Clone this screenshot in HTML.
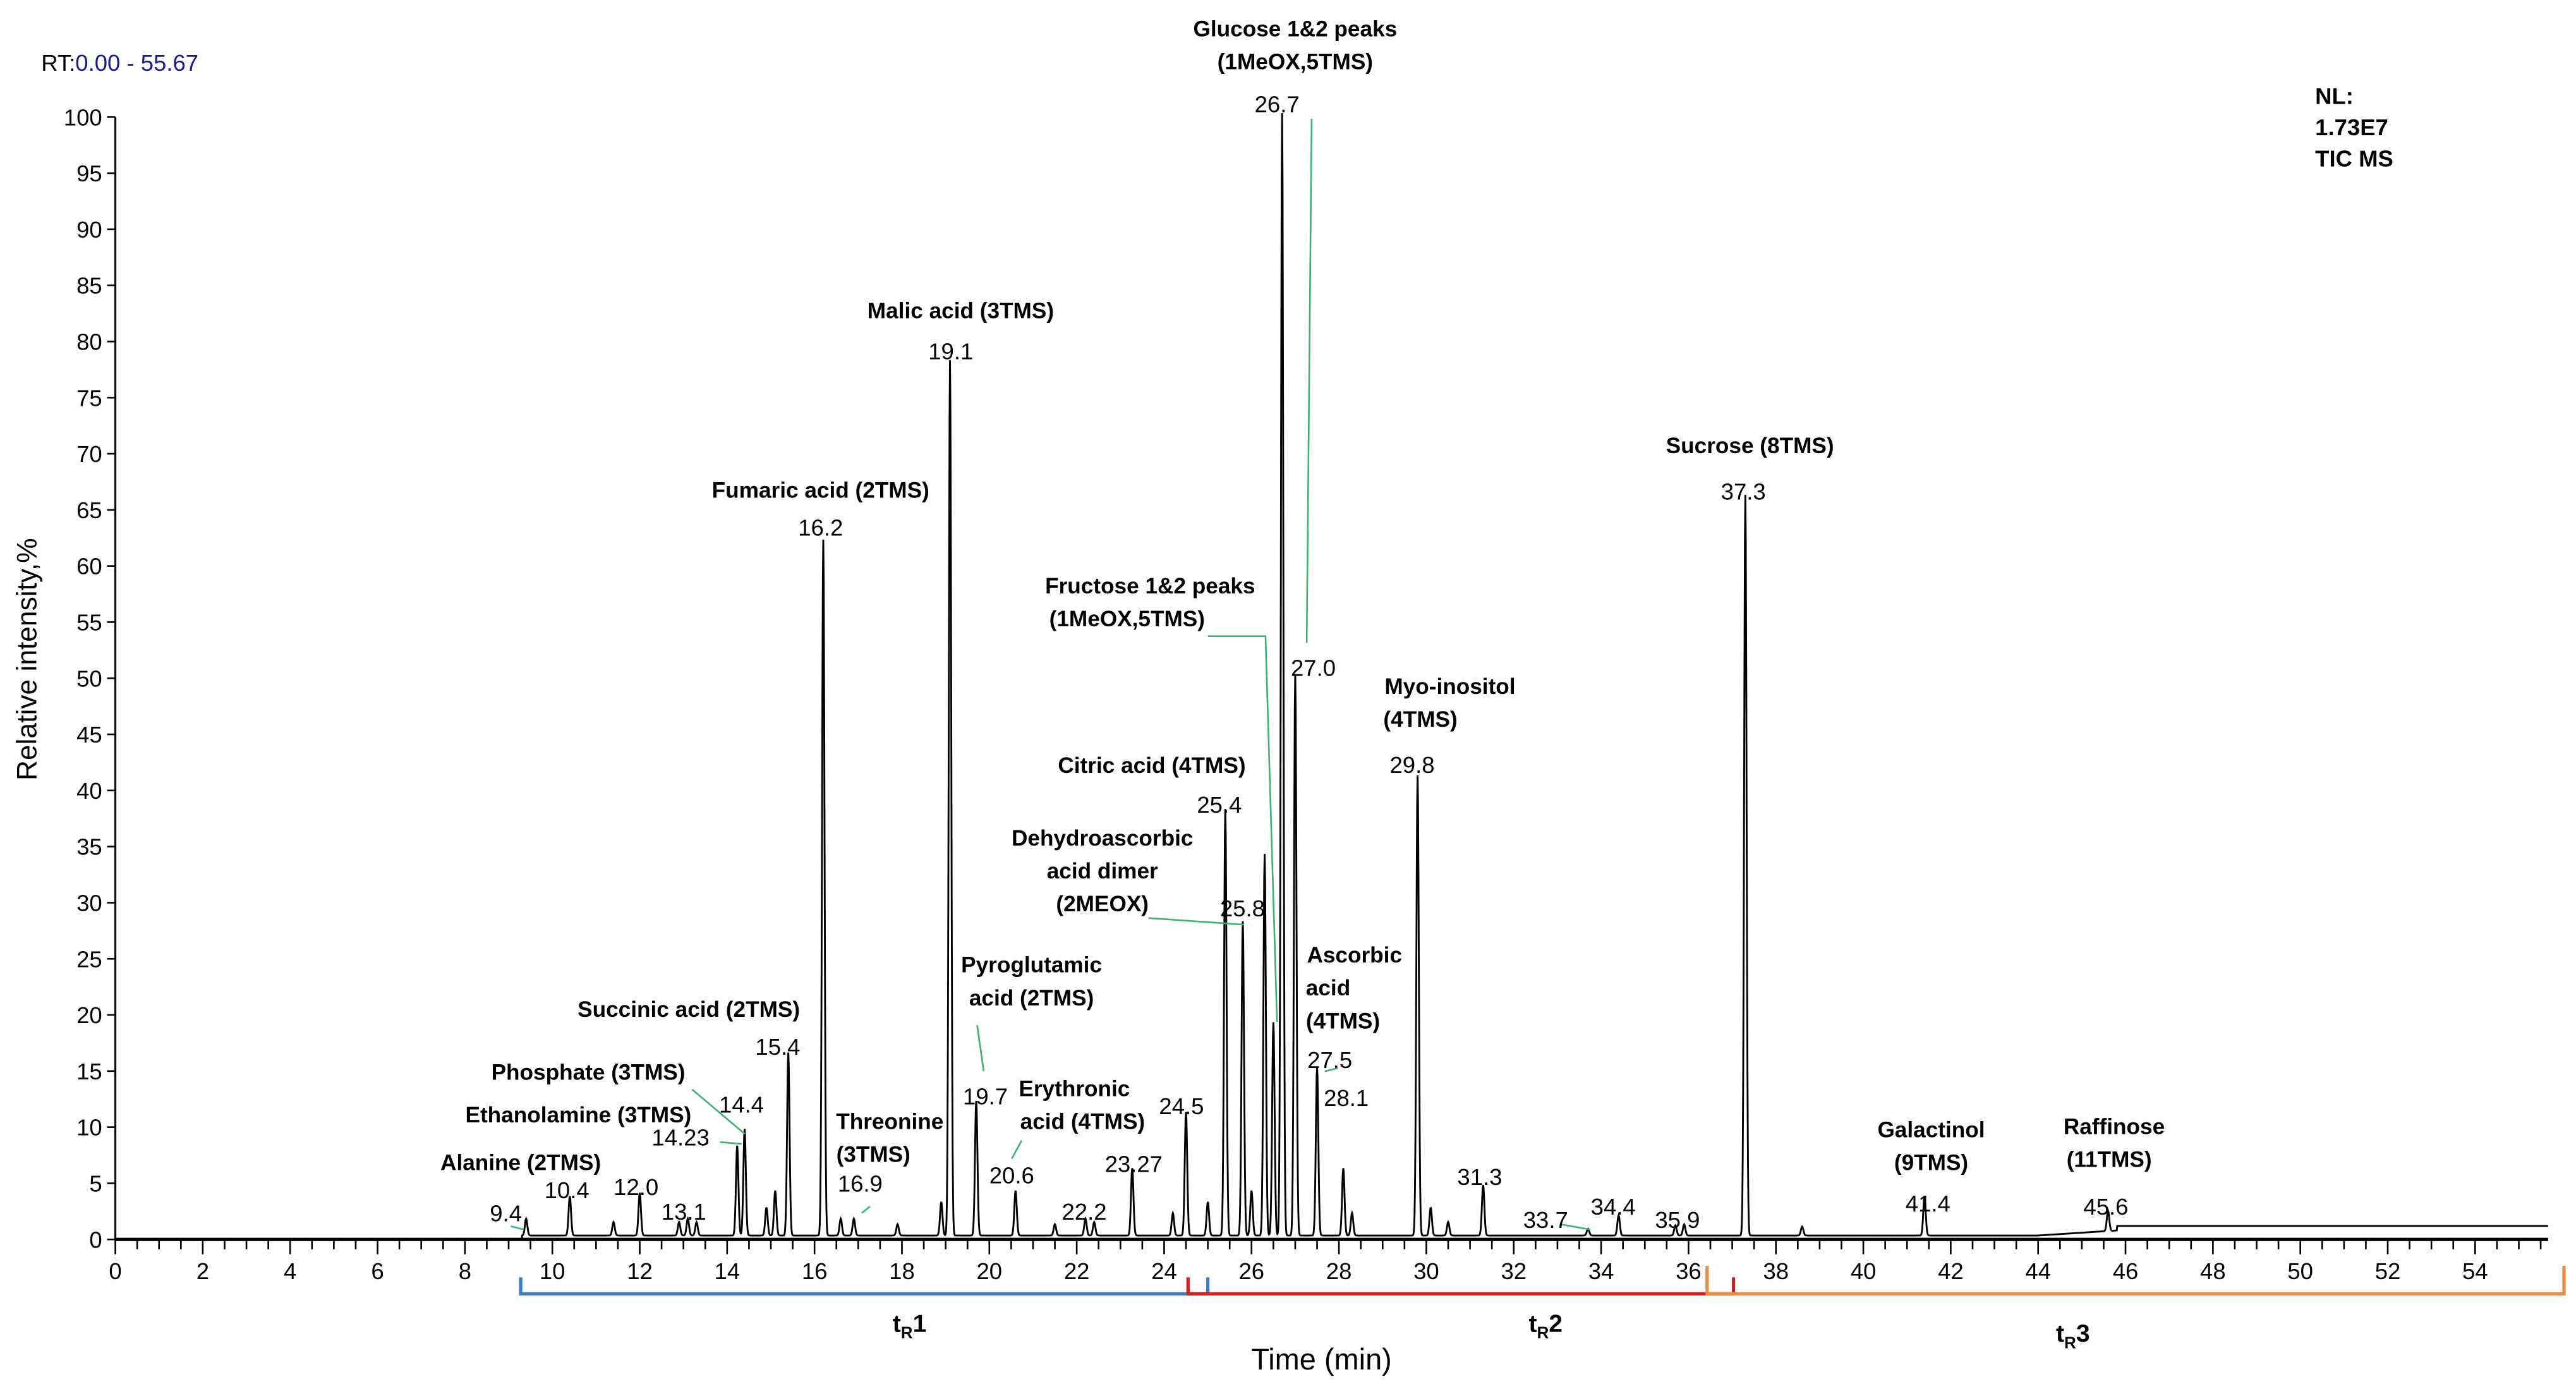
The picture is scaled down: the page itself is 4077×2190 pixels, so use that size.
<!DOCTYPE html>
<html><head><meta charset="utf-8"><style>
html,body{margin:0;padding:0;background:#fff;}
svg{display:block;font-family:"Liberation Sans",Arial,sans-serif;}
.b{font-weight:bold;font-size:13.5px;fill:#000;}
.n{font-size:14px;fill:#000;}
.g{stroke:#3cb371;stroke-width:1;fill:none;}
</style></head><body>
<svg id="chart" width="4077" height="2190" viewBox="0 0 1563.3 839.7">
<text x="25" y="43" font-size="14">RT:<tspan fill="#1a1a8c">0.00 - 55.67</tspan></text>
<g font-weight="bold" font-size="14">
<text x="1405" y="63">NL:</text><text x="1405" y="82">1.73E7</text><text x="1405" y="101">TIC  MS</text></g>
<g id="axes"></g>
<path id="trace" fill="none" stroke="#000" stroke-width="1.1"></path>
<g>
<text class="b" x="786" y="22" text-anchor="middle">Glucose 1&amp;2 peaks</text>
<text class="b" x="786" y="42" text-anchor="middle">(1MeOX,5TMS)</text>
<text class="n" x="775" y="68" text-anchor="middle">26.7</text>
<text class="b" x="583" y="193" text-anchor="middle">Malic acid (3TMS)</text>
<text class="n" x="577" y="218" text-anchor="middle">19.1</text>
<text class="b" x="498" y="302" text-anchor="middle">Fumaric acid (2TMS)</text>
<text class="n" x="498" y="325" text-anchor="middle">16.2</text>
<text class="b" x="1062" y="275" text-anchor="middle">Sucrose (8TMS)</text>
<text class="n" x="1058" y="303" text-anchor="middle">37.3</text>
<text class="b" x="698" y="360" text-anchor="middle">Fructose 1&amp;2 peaks</text>
<text class="b" x="684" y="380" text-anchor="middle">(1MeOX,5TMS)</text>
<text class="n" x="797" y="410" text-anchor="middle">27.0</text>
<text class="b" x="880" y="421" text-anchor="middle">Myo-inositol</text>
<text class="b" x="862" y="441" text-anchor="middle">(4TMS)</text>
<text class="n" x="857" y="469" text-anchor="middle">29.8</text>
<text class="b" x="699" y="469" text-anchor="middle">Citric acid (4TMS)</text>
<text class="n" x="740" y="493" text-anchor="middle">25.4</text>
<text class="b" x="669" y="513" text-anchor="middle">Dehydroascorbic</text>
<text class="b" x="669" y="533" text-anchor="middle">acid dimer</text>
<text class="b" x="669" y="553" text-anchor="middle">(2MEOX)</text>
<text class="n" x="754" y="556" text-anchor="middle">25.8</text>
<text class="b" x="822" y="584" text-anchor="middle">Ascorbic</text>
<text class="b" x="806" y="604" text-anchor="middle">acid</text>
<text class="b" x="815" y="624" text-anchor="middle">(4TMS)</text>
<text class="n" x="807" y="648" text-anchor="middle">27.5</text>
<text class="b" x="626" y="590" text-anchor="middle">Pyroglutamic</text>
<text class="b" x="626" y="610" text-anchor="middle">acid (2TMS)</text>
<text class="n" x="598" y="670" text-anchor="middle">19.7</text>
<text class="b" x="652" y="665" text-anchor="middle">Erythronic</text>
<text class="b" x="657" y="685" text-anchor="middle">acid (4TMS)</text>
<text class="n" x="614" y="718" text-anchor="middle">20.6</text>
<text class="b" x="418" y="617" text-anchor="middle">Succinic acid (2TMS)</text>
<text class="n" x="472" y="640" text-anchor="middle">15.4</text>
<text class="b" x="357" y="655" text-anchor="middle">Phosphate (3TMS)</text>
<text class="n" x="450" y="675" text-anchor="middle">14.4</text>
<text class="b" x="351" y="681" text-anchor="middle">Ethanolamine (3TMS)</text>
<text class="n" x="413" y="695" text-anchor="middle">14.23</text>
<text class="b" x="540" y="685" text-anchor="middle">Threonine</text>
<text class="b" x="530" y="705" text-anchor="middle">(3TMS)</text>
<text class="n" x="522" y="723" text-anchor="middle">16.9</text>
<text class="b" x="316" y="710" text-anchor="middle">Alanine (2TMS)</text>
<text class="n" x="307" y="741" text-anchor="middle">9.4</text>
<text class="n" x="344" y="727" text-anchor="middle">10.4</text>
<text class="n" x="386" y="725" text-anchor="middle">12.0</text>
<text class="n" x="415" y="740" text-anchor="middle">13.1</text>
<text class="n" x="658" y="740" text-anchor="middle">22.2</text>
<text class="n" x="688" y="711" text-anchor="middle">23.27</text>
<text class="n" x="717" y="676" text-anchor="middle">24.5</text>
<text class="n" x="817" y="671" text-anchor="middle">28.1</text>
<text class="n" x="898" y="719" text-anchor="middle">31.3</text>
<text class="n" x="938" y="745" text-anchor="middle">33.7</text>
<text class="n" x="979" y="737" text-anchor="middle">34.4</text>
<text class="n" x="1018" y="745" text-anchor="middle">35.9</text>
<text class="b" x="1172" y="690" text-anchor="middle">Galactinol</text>
<text class="b" x="1172" y="710" text-anchor="middle">(9TMS)</text>
<text class="n" x="1170" y="735" text-anchor="middle">41.4</text>
<text class="b" x="1283" y="688" text-anchor="middle">Raffinose</text>
<text class="b" x="1280" y="708" text-anchor="middle">(11TMS)</text>
<text class="n" x="1278" y="737" text-anchor="middle">45.6</text>
</g>
<g>
<polyline class="g" points="733,386 768,386 775,620"/>
<polyline class="g" points="796,72 793,390"/>
<polyline class="g" points="697,557 755,561"/>
<polyline class="g" points="804,650 812,648"/>
<polyline class="g" points="593,622 597,650"/>
<polyline class="g" points="614,703 620,692"/>
<polyline class="g" points="420,661 452,688"/>
<polyline class="g" points="437,693 450,694"/>
<polyline class="g" points="523,736 528,732"/>
<polyline class="g" points="310,744 318,746"/>
<polyline class="g" points="948,743 965,746"/>
</g>
<text x="22" y="400" font-size="17" text-anchor="middle" transform="rotate(-90 22 400)">Relative intensity,%</text>
<text x="802" y="831" font-size="18" text-anchor="middle">Time (min)</text>
<g fill="none" stroke-width="2">
<polyline stroke="#3a7ec9" points="316,775 316,785 733,785 733,775"/>
<polyline stroke="#d42020" points="721,775 721,785 1052,785 1052,775"/>
<polyline stroke="#f08a3c" points="1036,768 1036,785 1556,785 1556,768"/>
</g>
<g font-weight="bold" font-size="15" text-anchor="middle">
<text x="552" y="808">t<tspan font-size="10" dy="4">R</tspan><tspan dy="-4">1</tspan></text>
<text x="938" y="808">t<tspan font-size="10" dy="4">R</tspan><tspan dy="-4">2</tspan></text>
<text x="1258" y="814">t<tspan font-size="10" dy="4">R</tspan><tspan dy="-4">3</tspan></text>
</g>
</svg>
<script>
const peakTimes = [9.4,10.4,11.4,12.0,12.9,13.1,13.3,14.23,14.4,14.9,15.1,15.4,16.2,16.6,16.9,17.9,18.9,19.1,19.7,20.6,21.5,22.2,22.4,23.27,24.2,24.5,25.0,25.4,25.8,26.0,26.3,26.5,26.7,27.0,27.5,28.1,28.3,29.8,30.1,30.5,31.3,33.7,34.4,35.7,35.9,37.3,38.6,41.4,45.6];
const peakHeights = [1.5,3.5,1.2,3.8,1.2,1.5,1.2,8,9.5,2.5,4,16.3,62,1.5,1.5,1,3,78,12,4,1,1.5,1.2,6,2,11,3,38,28,4,34,19,100,50,15,6,2,41,2.5,1.2,4.5,0.6,1.8,0.9,1,66,0.8,3.5,1.8];
const yTicks = [0,5,10,15,20,25,30,35,40,45,50,55,60,65,70,75,80,85,90,95,100];
const xTicks = [0,2,4,6,8,10,12,14,16,18,20,22,24,26,28,30,32,34,36,38,40,42,44,46,48,50,52,54];
const X0=70, PXM=26.52, Y0=752, PXU=6.81;
const xs = t => X0 + t*PXM;
const ys = v => Y0 - v*PXU;
const NS='http://www.w3.org/2000/svg';
const ax=document.getElementById('axes');
function mk(tag,attrs,parent){const e=document.createElementNS(NS,tag);for(const k in attrs)e.setAttribute(k,attrs[k]);(parent||ax).appendChild(e);return e;}
const yl=mk('line',{x1:X0,y1:ys(100),x2:X0,y2:Y0,stroke:'#000','stroke-width':1.2});


const xl=mk('line',{x1:X0,y1:Y0,x2:xs(55.67),y2:Y0,stroke:'#000','stroke-width':2});


yTicks.forEach(v=>{
  mk('line',{x1:X0-5,y1:ys(v),x2:X0,y2:ys(v),stroke:'#000','stroke-width':1});
  const t=mk('text',{x:X0-8,y:ys(v)+5,'text-anchor':'end','font-size':14});
  t.textContent=v;
  
  
});
for(let m=0;m<=55.5;m+=0.5){
  const maj=Math.abs(m%2)<1e-6;
  mk('line',{x1:xs(m),y1:Y0,x2:xs(m),y2:Y0+(maj?9:6),stroke:'#000','stroke-width':1});
}
xTicks.forEach(v=>{
  const t=mk('text',{x:xs(v),y:776,'text-anchor':'middle','font-size':14});
  t.textContent=v;
  
  
});
// trace
let d='';
const start=9.2, end=55.67, step=0.01;
for(let t=start;t<=end+1e-9;t+=step){
  let base = t<9.3 ? 0 : (t<44 ? 0.35 : (t<45.8 ? 0.35+(t-44)*0.25 : 1.2));
  let v=base;
  for(let i=0;i<peakTimes.length;i++){
    const dt=(t-peakTimes[i])/0.028;
    if(Math.abs(dt)<6) v+=peakHeights[i]*Math.exp(-0.5*dt*dt);
  }
  d+=(d?'L':'M')+xs(t).toFixed(2)+','+ys(v).toFixed(2);
}
document.getElementById('trace').setAttribute('d','M'+xs(0)+','+ys(0)+'L'+xs(start)+','+ys(0)+d.replace(/^M/,'L'));
</script>
</body></html>
